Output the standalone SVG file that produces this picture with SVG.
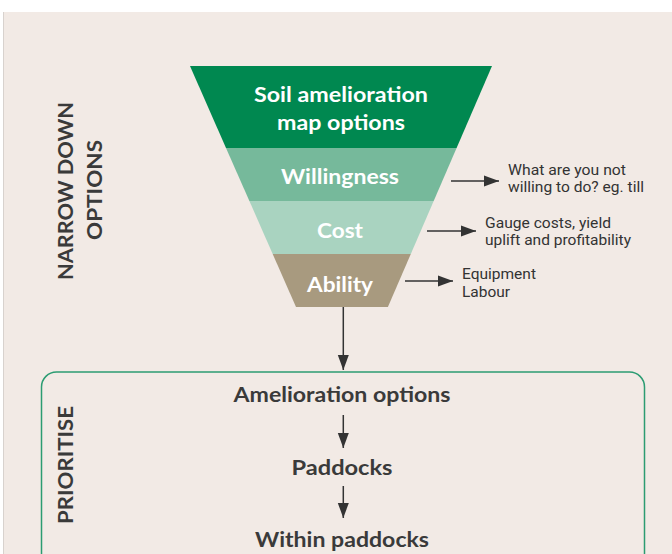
<svg xmlns="http://www.w3.org/2000/svg" width="672" height="554" viewBox="0 0 672 554">
<defs>
<marker id="ah" markerUnits="userSpaceOnUse" markerWidth="16" markerHeight="12" refX="15" refY="6" orient="auto">
<path d="M0,0.5 L15,6 L0,11.5 Z" fill="#333"/>
</marker>
<style>
.ft{font-family:Lato,"Liberation Sans",sans-serif;font-weight:bold;fill:#fff;text-anchor:middle;font-size:21px}
.nt{font-family:Roboto,"Liberation Sans",sans-serif;fill:#333;font-size:14.4px}
.pt{font-family:Lato,"Liberation Sans",sans-serif;font-weight:bold;fill:#3a3a3a;text-anchor:middle;font-size:21px}
.side{font-family:Lato,"Liberation Sans",sans-serif;font-weight:bold;fill:#3a3a3a;text-anchor:middle;font-size:21px}
.ln{stroke:#333;stroke-width:1.5;fill:none}
</style>
</defs>
<rect x="0" y="0" width="672" height="554" fill="#fff"/>
<rect x="3" y="12" width="669" height="542" fill="#f2eae5"/>
<line x1="3.5" y1="12" x2="3.5" y2="554" stroke="#d8d2ce" stroke-width="1"/>

<g id="funnel-soil">
<polygon points="190,66 492,66 456.6,148 226,148" fill="#008850"/>
<text class="ft" x="341" y="102" textLength="174" lengthAdjust="spacingAndGlyphs">Soil amelioration</text>
<text class="ft" x="341" y="130" textLength="128" lengthAdjust="spacingAndGlyphs">map options</text>
</g>
<g id="funnel-willingness">
<polygon points="226,148 456.6,148 433.7,201 249.4,201" fill="#76b99b"/>
<text class="ft" x="340" y="184" textLength="118" lengthAdjust="spacingAndGlyphs">Willingness</text>
</g>
<g id="funnel-cost">
<polygon points="249.4,201 433.7,201 410.8,254 272.7,254" fill="#a9d3c0"/>
<text class="ft" x="340" y="238" textLength="46" lengthAdjust="spacingAndGlyphs">Cost</text>
</g>
<g id="funnel-ability">
<polygon points="272.7,254 410.8,254 387.9,307 296,307" fill="#a89a7f"/>
<text class="ft" x="340" y="292" textLength="66" lengthAdjust="spacingAndGlyphs">Ability</text>
</g>

<g id="note-willingness">
<text class="nt" x="508" y="175" textLength="118" lengthAdjust="spacingAndGlyphs">What are you not</text>
<text class="nt" x="508" y="192" textLength="136" lengthAdjust="spacingAndGlyphs">willing to do? eg. till</text>
</g>
<g id="note-cost">
<text class="nt" x="485" y="228" textLength="126" lengthAdjust="spacingAndGlyphs">Gauge costs, yield</text>
<text class="nt" x="485" y="245" textLength="146" lengthAdjust="spacingAndGlyphs">uplift and profitability</text>
</g>
<g id="note-ability">
<text class="nt" x="462" y="279" textLength="74" lengthAdjust="spacingAndGlyphs">Equipment</text>
<text class="nt" x="462" y="297" textLength="48" lengthAdjust="spacingAndGlyphs">Labour</text>
</g>

<g id="label-narrow">
<text class="side" transform="translate(73,191) rotate(-90)" x="0" y="0" textLength="178" lengthAdjust="spacingAndGlyphs">NARROW DOWN</text>
<text class="side" transform="translate(101.5,190) rotate(-90)" x="0" y="0" textLength="100" lengthAdjust="spacingAndGlyphs">OPTIONS</text>
</g>

<g id="prioritise-box">
<rect x="41.5" y="372" width="603" height="196" rx="15" ry="15" fill="none" stroke="#2c9c72" stroke-width="1.5"/>
<text class="side" transform="translate(72.5,465) rotate(-90)" x="0" y="0" textLength="118" lengthAdjust="spacingAndGlyphs">PRIORITISE</text>
</g>
<g id="node-amelioration">
<text class="pt" x="342" y="402" textLength="217" lengthAdjust="spacingAndGlyphs">Amelioration options</text>
</g>
<g id="node-paddocks">
<text class="pt" x="342" y="475" textLength="101" lengthAdjust="spacingAndGlyphs">Paddocks</text>
</g>
<g id="node-within">
<text class="pt" x="342" y="547" textLength="174" lengthAdjust="spacingAndGlyphs">Within paddocks</text>
</g>

<g id="connectors">
<line class="ln" x1="451" y1="181" x2="499" y2="181" marker-end="url(#ah)"/>
<line class="ln" x1="427" y1="231" x2="476" y2="231" marker-end="url(#ah)"/>
<line class="ln" x1="405" y1="281" x2="453" y2="281" marker-end="url(#ah)"/>
<line class="ln" x1="343.3" y1="307" x2="343.3" y2="370" marker-end="url(#ah)"/>
<line class="ln" x1="343.3" y1="415" x2="343.3" y2="448" marker-end="url(#ah)"/>
<line class="ln" x1="343.3" y1="486" x2="343.3" y2="518" marker-end="url(#ah)"/>
</g>
</svg>
